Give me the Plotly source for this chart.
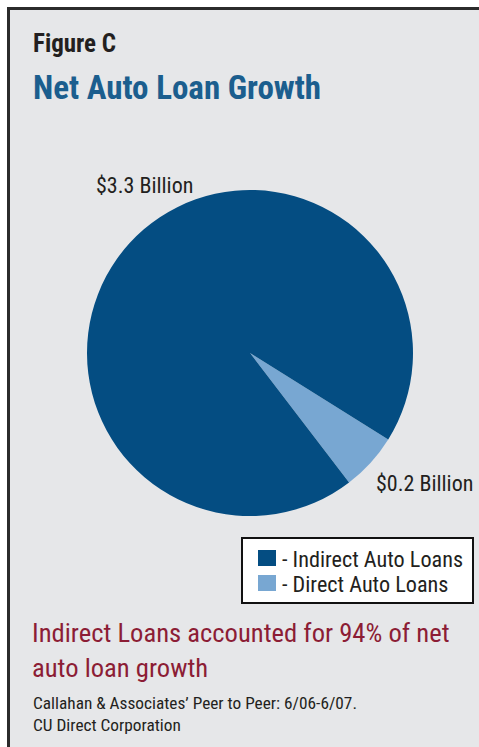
import plotly.graph_objects as go

# Net auto loan growth, in billions of dollars
categories = ["Direct Auto Loans", "Indirect Auto Loans"]
growth_billions = [0.2, 3.3]
slice_colors = ["#78a7d2", "#044d82"]

legend_order = ["Indirect Auto Loans", "Direct Auto Loans"]

W, H = 479, 747
FONT = "Roboto Condensed, DejaVu Sans Condensed, Roboto, sans-serif"


def px(x):
    return x / W


def py(y):
    return 1 - y / H


color_of = dict(zip(categories, slice_colors))
value_of = dict(zip(categories, growth_billions))

# pie centred at (250, 353) with radius 163 px
cx, cy, r = 250, 353, 163
fig = go.Figure(
    go.Pie(
        labels=categories,
        values=growth_billions,
        marker=dict(colors=slice_colors, line=dict(width=0)),
        sort=False,
        direction="clockwise",
        rotation=122,
        textinfo="none",
        hoverinfo="label+value",
        showlegend=False,
        domain=dict(x=[px(cx - r), px(cx + r)], y=[py(cy + r), py(cy - r)]),
    )
)

shapes = [
    # framed grey panel
    dict(type="rect", xref="paper", yref="paper", layer="below",
         x0=px(8.5), x1=px(W + 20), y0=py(H + 20), y1=py(8.5),
         line=dict(color="#2b2b2b", width=3), fillcolor="#e6e7e9"),
    # legend box
    dict(type="rect", xref="paper", yref="paper",
         x0=px(242), x1=px(473), y0=py(603), y1=py(538),
         line=dict(color="#111111", width=2), fillcolor="#ffffff"),
]

annotations = [
    dict(text="<b>Figure C</b>", x=px(31), y=py(43.5), font=dict(size=25, color="#231f20")),
    dict(text="<b>Net Auto Loan Growth</b>", x=px(31), y=py(87), font=dict(size=33, color="#1b5e8e")),
    dict(text=f"${value_of['Indirect Auto Loans']:.1f} Billion", x=px(94), y=py(185.5),
         font=dict(size=22, color="#231f20")),
    dict(text=f"${value_of['Direct Auto Loans']:.1f} Billion", x=px(374), y=py(483.5),
         font=dict(size=22, color="#231f20")),
    dict(text="Indirect Loans accounted for 94% of net<br>auto loan growth", x=px(30), y=py(650),
         align="left", font=dict(size=26.6, color="#8c1d35")),
    dict(text="Callahan & Associates’ Peer to Peer: 6/06-6/07.<br>CU Direct Corporation", x=px(30.5), y=py(713.5),
         align="left", font=dict(size=17.3, color="#231f20")),
]

# hand-built legend rows
row_tops = [550, 575]
for name, top in zip(legend_order, row_tops):
    shapes.append(dict(type="rect", xref="paper", yref="paper",
                       x0=px(258), x1=px(276), y0=py(top + 16), y1=py(top),
                       line=dict(width=0), fillcolor=color_of[name]))
    annotations.append(dict(text=f"- {name}", x=px(280), y=py(top + 8.5),
                            font=dict(size=22.2, color="#231f20")))

for a in annotations:
    a.update(xref="paper", yref="paper", xanchor="left", yanchor="middle", showarrow=False)
    a["font"]["family"] = FONT

fig.update_layout(
    width=W, height=H,
    margin=dict(l=0, r=0, t=0, b=0),
    paper_bgcolor="#ffffff",
    plot_bgcolor="#ffffff",
    shapes=shapes,
    annotations=annotations,
    font=dict(family=FONT),
)

fig.write_html("out.html")
